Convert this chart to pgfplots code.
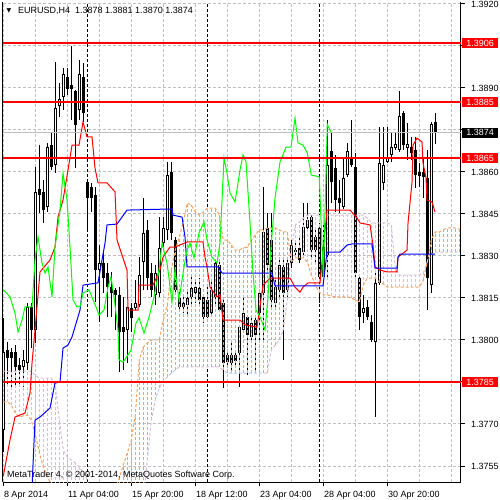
\documentclass[border=0pt]{standalone}
\usepackage{fontspec}
\setmainfont{Liberation Sans}
\newfontfamily\dejavu{DejaVu Sans}
\usepackage{pgfplots}
\usepackage{pgfplotstable}
\pgfplotsset{compat=1.18}
\definecolor{mtsandy}{HTML}{F4A460}
\definecolor{mtthistle}{HTML}{D8BFD8}
\definecolor{mtsilver}{HTML}{C0C0C0}
\definecolor{mtlime}{HTML}{00FF00}
\definecolor{mtred}{HTML}{FF0000}
\definecolor{mtblue}{HTML}{0000FF}

\pgfplotstableread{
x O H L C
0 1.37679 1.38079 1.37600 1.37957
1 1.37964 1.37993 1.37832 1.37936
2 1.37957 1.37971 1.37832 1.37936
3 1.37957 1.37982 1.37832 1.37904
4 1.37911 1.37936 1.37832 1.37893
5 1.37904 1.37964 1.37832 1.37929
6 1.37918 1.38132 1.37893 1.38118
7 1.38118 1.38132 1.37971 1.38036
8 1.38036 1.38618 1.37989 1.38529
9 1.38539 1.38696 1.38454 1.38518
10 1.38529 1.38571 1.38418 1.38464
11 1.38475 1.38704 1.38457 1.38689
12 1.38696 1.38739 1.38607 1.38618
13 1.38625 1.38993 1.38596 1.38829
14 1.38836 1.38918 1.38796 1.38861
15 1.38868 1.38971 1.38821 1.38950
16 1.38939 1.38971 1.38875 1.38896
17 1.38911 1.39050 1.38786 1.38896
18 1.38889 1.38893 1.38614 1.38768
19 1.38821 1.39000 1.38786 1.38950
20 1.38939 1.38989 1.38779 1.38811
21 1.38564 1.38571 1.38393 1.38507
22 1.38546 1.38561 1.38457 1.38507
23 1.38518 1.38546 1.38136 1.38250
24 1.38250 1.38339 1.38064 1.38275
25 1.38275 1.38321 1.38168 1.38221
26 1.38239 1.38275 1.38082 1.38189
27 1.38189 1.38243 1.38082 1.38168
28 1.38179 1.38186 1.38036 1.38161
29 1.38161 1.38189 1.37886 1.38029
30 1.38046 1.38154 1.37893 1.38029
31 1.38036 1.38118 1.37918 1.38118
32 1.38114 1.38132 1.38029 1.38079
33 1.38114 1.38214 1.38107 1.38132
34 1.38125 1.38296 1.38118 1.38232
35 1.38279 1.38507 1.38179 1.38382
36 1.38393 1.38429 1.38179 1.38221
37 1.38239 1.38275 1.38154 1.38179
38 1.38161 1.38268 1.38125 1.38239
39 1.38168 1.38439 1.38154 1.38329
40 1.38346 1.38439 1.38332 1.38400
41 1.38393 1.38636 1.38357 1.38589
42 1.38600 1.38636 1.38357 1.38382
43 1.38357 1.38368 1.38168 1.38179
44 1.38150 1.38179 1.38100 1.38118
45 1.38132 1.38154 1.38096 1.38118
46 1.38125 1.38179 1.38089 1.38150
47 1.38154 1.38225 1.38118 1.38186
48 1.38168 1.38214 1.38132 1.38189
49 1.38186 1.38221 1.38118 1.38143
50 1.38154 1.38161 1.38061 1.38082
51 1.38143 1.38189 1.38079 1.38082
52 1.38096 1.38214 1.38082 1.38179
53 1.38154 1.38286 1.38118 1.38275
54 1.38268 1.38279 1.38107 1.38107
55 1.38132 1.38143 1.37829 1.37918
56 1.37946 1.37964 1.37904 1.37921
57 1.37946 1.37989 1.37882 1.37918
58 1.37946 1.37964 1.37900 1.37925
59 1.37954 1.38054 1.37832 1.38046
60 1.38036 1.38154 1.38025 1.38096
61 1.38082 1.38089 1.37875 1.38018
62 1.38011 1.38082 1.37989 1.38061
63 1.38071 1.38089 1.37893 1.38018
64 1.38096 1.38179 1.37989 1.38168
65 1.38168 1.38546 1.38000 1.38386
66 1.38400 1.38454 1.38250 1.38268
67 1.38357 1.38454 1.38118 1.38143
68 1.38132 1.38214 1.38107 1.38189
69 1.38179 1.38286 1.38143 1.38268
70 1.38261 1.38286 1.37929 1.38168
71 1.38179 1.38293 1.38154 1.38275
72 1.38275 1.38357 1.38257 1.38339
73 1.38321 1.38346 1.38296 1.38314
74 1.38329 1.38368 1.38275 1.38286
75 1.38314 1.38489 1.38296 1.38404
76 1.38400 1.38489 1.38386 1.38429
77 1.38439 1.38446 1.38286 1.38321
78 1.38368 1.38400 1.38275 1.38321
79 1.38400 1.38418 1.38132 1.38225
80 1.38225 1.38418 1.38204 1.38332
81 1.38304 1.38786 1.38214 1.38625
82 1.38675 1.38743 1.38489 1.38564
83 1.38614 1.38661 1.38457 1.38500
84 1.38507 1.38571 1.38454 1.38489
85 1.38475 1.38654 1.38468 1.38579
86 1.38589 1.38704 1.38582 1.38675
87 1.38650 1.38786 1.38618 1.38625
88 1.38618 1.38668 1.38225 1.38239
89 1.38221 1.38232 1.38036 1.38082
90 1.38096 1.38161 1.38061 1.38114
91 1.38118 1.38143 1.38071 1.38082
92 1.38064 1.38089 1.37993 1.38000
93 1.37993 1.38239 1.37725 1.38204
94 1.38204 1.38761 1.38196 1.38632
95 1.38561 1.38761 1.38536 1.38625
96 1.38636 1.38761 1.38632 1.38650
97 1.38661 1.38739 1.38636 1.38689
98 1.38686 1.38739 1.38679 1.38700
99 1.38679 1.38889 1.38671 1.38800
100 1.38811 1.38818 1.38679 1.38696
101 1.38686 1.38775 1.38643 1.38700
102 1.38689 1.38725 1.38643 1.38668
103 1.38679 1.38725 1.38543 1.38589
104 1.38600 1.38632 1.38546 1.38586
105 1.38600 1.38654 1.38507 1.38582
106 1.38579 1.38679 1.38107 1.38221
107 1.38196 1.38779 1.38168 1.38771
108 1.38780 1.38810 1.38700 1.38740
}\candles

\pgfplotstableread{
x A B
0 1.37779 1.37889
1 1.37779 1.37889
2 1.37768 1.37889
3 1.37739 1.37889
4 1.37725 1.37889
5 1.37729 1.37889
6 1.37732 1.37889
7 1.37714 1.37889
8 1.37661 1.37875
9 1.37600 1.37864
10 1.37546 1.37864
11 1.37514 1.37864
12 1.37482 1.37864
13 1.37464 1.37839
14 1.37446 1.37714
15 1.37429 1.37607
16 1.37429 1.37582
17 1.37429 1.37571
18 1.37429 1.37561
19 1.37429 1.37546
20 1.37429 1.37525
21 1.37429 1.37500
22 1.37429 1.37429
23 1.37429 1.37429
24 1.37429 1.37429
25 1.37429 1.37429
26 1.37429 1.37429
27 1.37429 1.37429
28 1.37471 1.37429
29 1.37507 1.37429
30 1.37554 1.37429
31 1.37596 1.37429
32 1.37643 1.37429
33 1.37732 1.37429
34 1.37929 1.37429
35 1.37975 1.37429
36 1.37989 1.37571
37 1.38000 1.37714
38 1.38000 1.37786
39 1.38000 1.37829
40 1.38071 1.37854
41 1.38125 1.37868
42 1.38250 1.37882
43 1.38321 1.37893
44 1.38368 1.37904
45 1.38421 1.37904
46 1.38489 1.37904
47 1.38482 1.37904
48 1.38457 1.37904
49 1.38446 1.37904
50 1.38457 1.37904
51 1.38471 1.37904
52 1.38471 1.37904
53 1.38471 1.37904
54 1.38446 1.37904
55 1.38357 1.37893
56 1.38357 1.37882
57 1.38339 1.37882
58 1.38321 1.37882
59 1.38321 1.37882
60 1.38329 1.37882
61 1.38332 1.37882
62 1.38357 1.37882
63 1.38375 1.37882
64 1.38393 1.37882
65 1.38393 1.37882
66 1.38400 1.37882
67 1.38400 1.37964
68 1.38400 1.37982
69 1.38393 1.38000
70 1.38386 1.38036
71 1.38386 1.38143
72 1.38279 1.38321
73 1.38293 1.38411
74 1.38293 1.38421
75 1.38293 1.38436
76 1.38279 1.38446
77 1.38232 1.38446
78 1.38196 1.38446
79 1.38171 1.38446
80 1.38161 1.38446
81 1.38161 1.38446
82 1.38157 1.38446
83 1.38154 1.38446
84 1.38154 1.38446
85 1.38154 1.38446
86 1.38154 1.38446
87 1.38150 1.38446
88 1.38143 1.38446
89 1.38136 1.38446
90 1.38196 1.38446
91 1.38221 1.38436
92 1.38221 1.38418
93 1.38221 1.38418
94 1.38207 1.38418
95 1.38200 1.38418
96 1.38189 1.38418
97 1.38189 1.38411
98 1.38189 1.38257
99 1.38189 1.38232
100 1.38189 1.38232
101 1.38189 1.38232
102 1.38189 1.38232
103 1.38189 1.38232
104 1.38189 1.38232
105 1.38214 1.38239
106 1.38279 1.38279
107 1.38357 1.38304
108 1.38386 1.38314
109 1.38386 1.38314
110 1.38393 1.38314
111 1.38400 1.38314
112 1.38400 1.38314
113 1.38400 1.38314
114 1.38396 1.38314
}\cloud

\pgfplotstableread{
x y
0 1.37514
1.68 1.37643
2.93 1.37725
4.18 1.37732
5.43 1.37739
6.68 1.37811
7.18 1.37918
7.93 1.38036
9.18 1.38243
11.68 1.38286
12.93 1.38332
13.68 1.38439
14.93 1.38500
16.18 1.38607
17.18 1.38696
18.93 1.38696
19.93 1.38779
20.93 1.38725
22.18 1.38725
22.93 1.38614
23.68 1.38561
25.93 1.38561
27.93 1.38529
28.43 1.38357
30.93 1.38250
31.18 1.38107
33.68 1.38107
33.93 1.38196
37.43 1.38196
39.18 1.38250
39.93 1.38296
41.68 1.38332
42.93 1.38332
45.93 1.38350
49.93 1.38350
50.43 1.38296
50.93 1.38261
51.68 1.38189
53.43 1.38154
54.18 1.38161
54.93 1.38071
59.18 1.38071
60.43 1.38054
63.43 1.38046
64.93 1.38196
66.68 1.38221
71.68 1.38221
72.93 1.38189
74.18 1.38171
74.93 1.38189
76.18 1.38204
79.18 1.38204
80.93 1.38464
86.68 1.38464
88.43 1.38436
89.18 1.38418
91.68 1.38411
92.43 1.38339
92.93 1.38261
94.18 1.38250
95.93 1.38243
98.43 1.38243
98.68 1.38296
100.93 1.38321
101.18 1.38418
102.18 1.38564
102.43 1.38696
103.43 1.38721
104.68 1.38707
104.93 1.38632
105.68 1.38579
105.93 1.38500
107.18 1.38493
107.93 1.38457
}\tenkan

\pgfplotstableread{
x y
0 1.37321
6.18 1.37411
7.18 1.37475
7.93 1.37714
9.18 1.37725
11.68 1.37757
12.43 1.37811
12.93 1.37846
14.18 1.37850
14.93 1.37971
16.18 1.37982
17.18 1.38011
19.18 1.38107
19.93 1.38196
23.68 1.38204
24.68 1.38286
25.43 1.38346
25.93 1.38411
28.43 1.38414
30.93 1.38464
42.18 1.38468
42.43 1.38446
44.68 1.38439
45.43 1.38368
45.93 1.38261
53.68 1.38261
54.68 1.38239
67.18 1.38239
67.93 1.38193
79.93 1.38193
80.93 1.38314
84.18 1.38314
85.93 1.38339
87.18 1.38343
92.18 1.38343
92.93 1.38257
98.43 1.38257
98.68 1.38296
99.18 1.38307
107.93 1.38307
}\kijun

\pgfplotstableread{
x y
0 1.38179
1.68 1.38154
2.93 1.38096
3.68 1.38029
4.68 1.38071
5.43 1.38118
7.18 1.38118
7.93 1.38286
8.68 1.38368
9.68 1.38275
10.43 1.38239
11.18 1.38261
12.18 1.38154
12.93 1.38332
14.18 1.38464
14.93 1.38596
15.93 1.38500
16.68 1.38332
17.43 1.38143
18.43 1.38118
19.18 1.38118
19.93 1.38168
21.43 1.38179
23.18 1.38118
23.93 1.38089
25.18 1.38107
26.18 1.38189
26.93 1.38225
27.68 1.38154
28.68 1.38036
28.93 1.37929
29.93 1.37921
30.68 1.37936
31.93 1.37964
33.18 1.38061
33.93 1.38079
35.18 1.38025
36.43 1.38082
37.68 1.38154
38.93 1.38250
39.68 1.38346
40.93 1.38275
42.18 1.38136
42.93 1.38250
43.93 1.38143
45.18 1.38261
45.93 1.38321
46.68 1.38346
47.68 1.38293
48.93 1.38382
50.18 1.38421
50.93 1.38357
52.18 1.38296
53.43 1.38275
54.18 1.38346
54.68 1.38500
55.18 1.38650
55.93 1.38596
56.68 1.38525
57.93 1.38493
59.18 1.38607
59.93 1.38661
60.68 1.38636
61.68 1.38418
62.43 1.38239
63.18 1.38107
64.18 1.38082
65.43 1.38036
66.18 1.38154
66.93 1.38332
67.93 1.38507
69.18 1.38636
70.68 1.38689
71.93 1.38689
72.93 1.38793
73.68 1.38704
74.93 1.38696
76 1.38668
77 1.38589
78 1.38586
79 1.38582
80 1.38221
81 1.38771
82 1.38740
}\chikou

\pgfplotstableread{
x y
-1 1.3906
116 1.3906
}\levelA
\pgfplotstableread{
x y
-1 1.3885
116 1.3885
}\levelB
\pgfplotstableread{
x y
-1 1.3865
116 1.3865
}\levelC
\pgfplotstableread{
x y
-1 1.3785
116 1.3785
}\levelD
\pgfplotstableread{
x y
-1 1.3874
116 1.3874
}\bidline

\begin{document}
\begin{tikzpicture}[x=1pt,y=1pt]
\useasboundingbox (0,0) rectangle (500,500);
\begin{axis}[
  at={(2.5pt,18pt)}, anchor=south west,
  scale only axis, width=458.4pt, height=480pt,
  xmin=-0.2, xmax=114.4, ymin=1.3749286, ymax=1.3920714,
  axis x line=bottom, axis y line=right,
  every non boxed x axis/.append style={x axis line style=-},
  every non boxed y axis/.append style={y axis line style=-},
  axis line style={-, black, line width=1pt},
  tick align=outside,
  major tick length=4pt, minor tick length=0pt,
  tick style={black, line width=1pt},
  xtick={0,16,32,48,64,80,96},
  xticklabels={8 Apr 2014, 11 Apr 04:00, 15 Apr 20:00, 18 Apr 12:00, 23 Apr 04:00, 28 Apr 04:00, 30 Apr 20:00},
  minor xtick={8,24,40,56,72,88,104,112},
  ytick={1.3755,1.3770,1.3785,1.3800,1.3815,1.3830,1.3845,1.3860,1.3875,1.3890,1.3905,1.3920},
  yticklabels={1.3755,1.3770,,1.3800,1.3815,1.3830,1.3845,1.3860,,1.3890,,1.3920},
  xmajorgrids, xminorgrids, ymajorgrids,
  grid style={mtsilver, line width=1pt, dash pattern=on 3pt off 2pt},
  extra x ticks={21,51,79}, extra x tick labels={},
  extra x tick style={grid=major, major grid style={black, line width=1pt, dash pattern=on 3pt off 2pt}, major tick length=0pt},
  tick label style={font=\fontsize{9}{10}\selectfont, text=black},
  xticklabel style={anchor=north west, inner sep=0pt, yshift=-5pt, xshift=0.5pt},
  yticklabel style={anchor=west, inner sep=0pt, xshift=6pt},
  clip=true,
  after end axis/.code={
    \draw[black, line width=1pt] (rel axis cs:0,0) -- (rel axis cs:0,1);
    \foreach \p/\c in {1.3906/mtred, 1.3885/mtred, 1.3865/mtred, 1.3785/mtred, 1.3874/black}{
      \node[anchor=west, fill=\c, text=white, inner sep=0pt, minimum width=36pt, minimum height=10.5pt, font=\fontsize{9}{10}\selectfont, xshift=1pt] at (axis cs:114.4,\p) {\p};
    }
  },
]
% candle wicks
\addplot[draw=none, mark=none, error bars/.cd, y dir=plus, y explicit, error mark=none,
  error bar style={draw=black, line width=1pt}]
  table[x=x, y=L, y error expr=\thisrow{H}-\thisrow{L}] {\candles};
% candle bodies
\addplot[draw=none, mark=none, error bars/.cd, y dir=plus, y explicit, error mark=none,
  error bar style={draw=black, line width=3pt}]
  table[x=x, y expr={min(\thisrow{O},\thisrow{C})}, y error expr={abs(\thisrow{C}-\thisrow{O})}] {\candles};
% hollow interiors of bullish candles
\addplot[draw=none, mark=none, restrict expr to domain={\thisrow{C}-\thisrow{O}}{0.00001:1},
  error bars/.cd, y dir=plus, y explicit, error mark=none,
  error bar style={draw=white, line width=1pt, shorten <=1pt, shorten >=1pt}]
  table[x=x, y=O, y error expr=\thisrow{C}-\thisrow{O}] {\candles};
% cloud hatching
\addplot[draw=none, mark=none, restrict expr to domain={\thisrow{A}-\thisrow{B}}{0.00001:1},
  error bars/.cd, y dir=plus, y explicit, error mark=none,
  error bar style={draw=mtsandy, line width=1pt, dash pattern=on 3pt off 2pt}]
  table[x=x, y=B, y error expr=\thisrow{A}-\thisrow{B}] {\cloud};
\addplot[draw=none, mark=none, restrict expr to domain={\thisrow{B}-\thisrow{A}}{0.00001:1},
  error bars/.cd, y dir=plus, y explicit, error mark=none,
  error bar style={draw=mtthistle, line width=1pt, dash pattern=on 3pt off 2pt}]
  table[x=x, y=A, y error expr=\thisrow{B}-\thisrow{A}] {\cloud};
\addplot[draw=mtsandy, line width=1pt, dash pattern=on 3pt off 2pt] table[x=x, y=A] {\cloud};
\addplot[draw=mtthistle, line width=1pt, dash pattern=on 3pt off 2pt] table[x=x, y=B] {\cloud};
% Ichimoku lines
\addplot[draw=mtred, line width=1pt] table[x=x, y=y] {\tenkan};
\addplot[draw=mtblue, line width=1pt] table[x=x, y=y] {\kijun};
\addplot[draw=mtlime, line width=1pt] table[x=x, y=y] {\chikou};
% horizontal levels
\addplot[draw=mtsilver, line width=1.2pt, mark=none] table[x=x, y=y] {\bidline};
\addplot[draw=red, line width=1.5pt, mark=none] table[x=x, y=y] {\levelA};
\addplot[draw=red, line width=1.5pt, mark=none] table[x=x, y=y] {\levelB};
\addplot[draw=red, line width=1.5pt, mark=none] table[x=x, y=y] {\levelC};
\addplot[draw=red, line width=1.5pt, mark=none] table[x=x, y=y] {\levelD};
\end{axis}
\node[inner sep=0pt, font=\dejavu\fontsize{6}{6}\selectfont] at (9,489.5) {▼};
\node[anchor=west, inner sep=0pt, font=\fontsize{9}{10}\selectfont] at (18,489) {EURUSD,H4\ \ 1.3878 1.3881 1.3870 1.3874};
\node[anchor=west, inner sep=0pt, font=\fontsize{9}{10}\selectfont] at (7,24.5) {MetaTrader 4, © 2001-2014, MetaQuotes Software Corp.};
\end{tikzpicture}
\end{document}
